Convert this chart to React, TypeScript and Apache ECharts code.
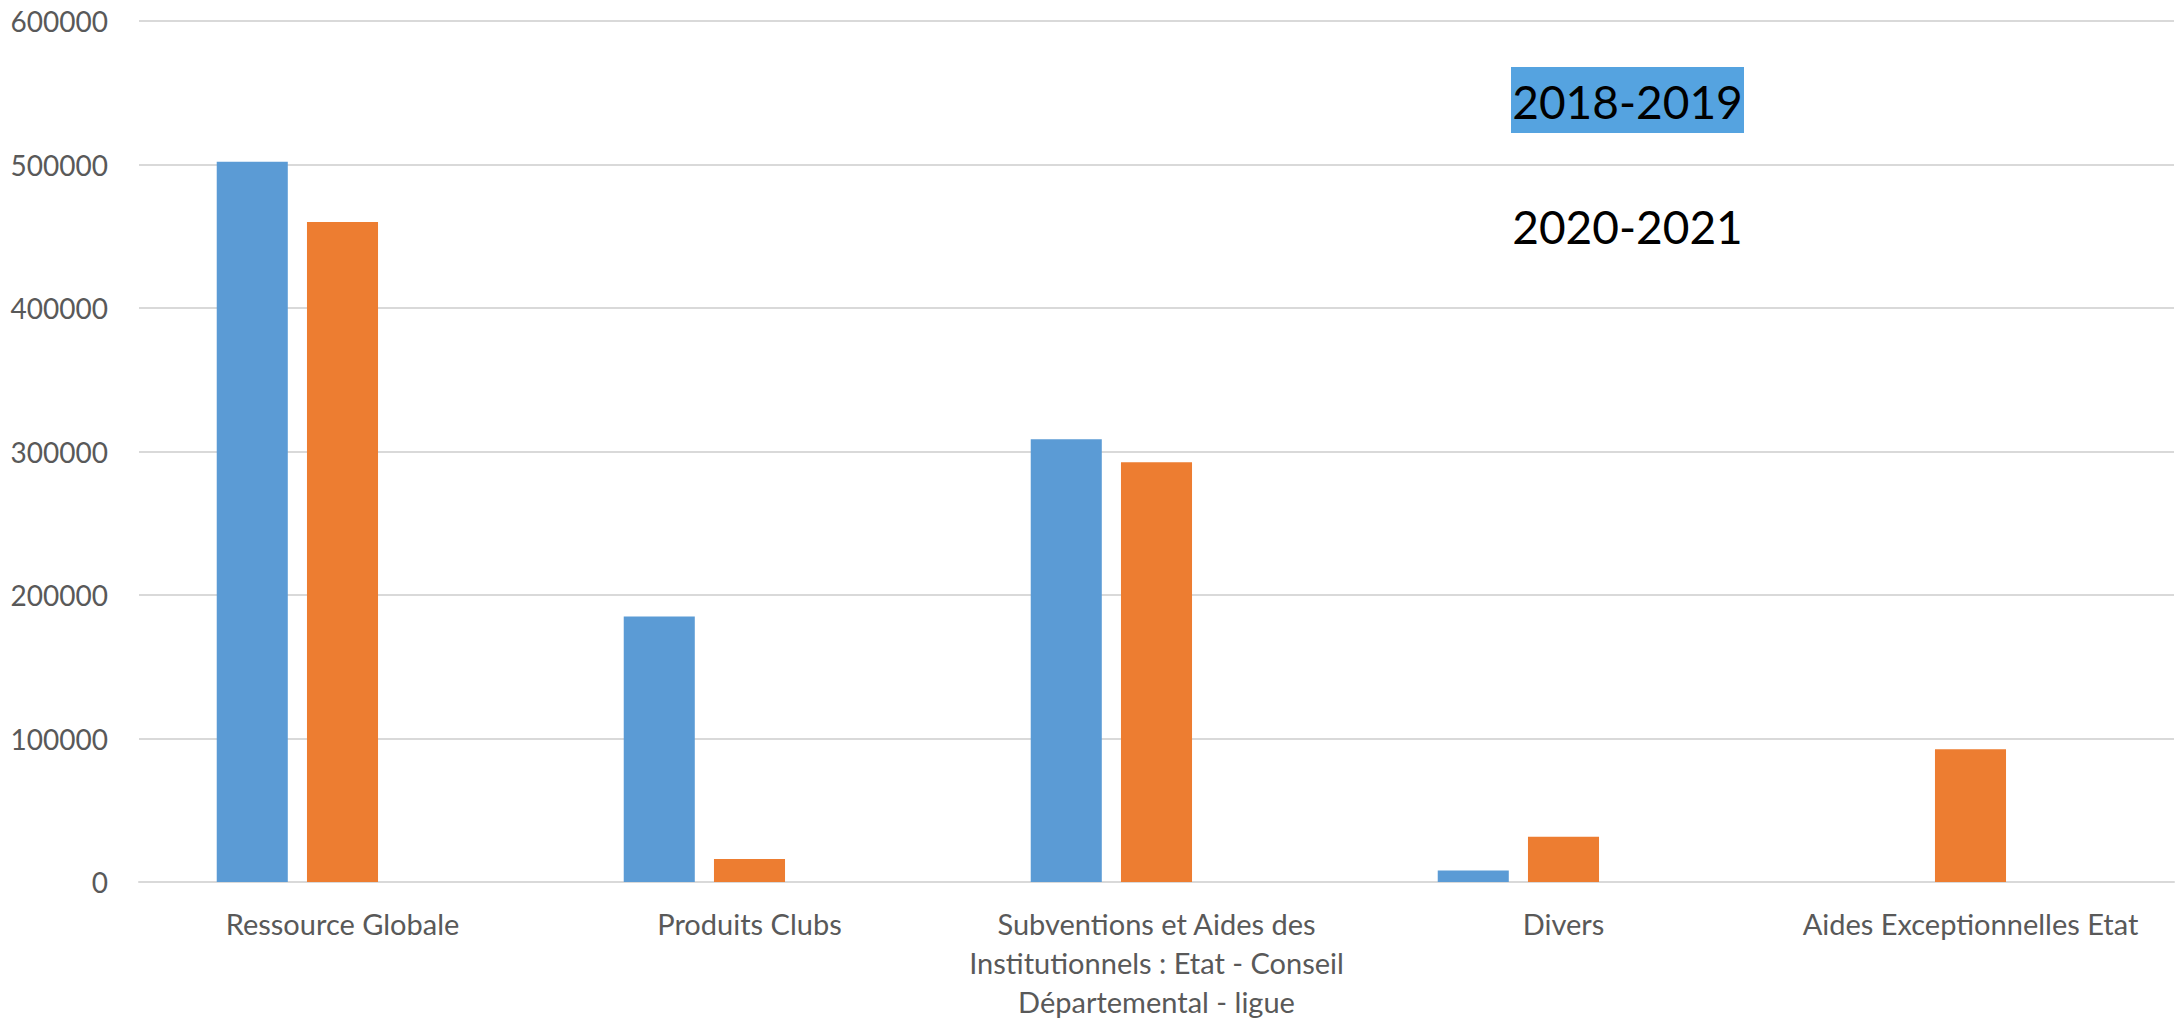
import React, { useEffect, useRef } from "react";
import * as echarts from "echarts";

const categories = [
  "Ressource Globale",
  "Produits Clubs",
  "Subventions et Aides des\nInstitutionnels : Etat - Conseil\nDépartemental - ligue",
  "Divers",
  "Aides Exceptionnelles Etat",
];
const seriesNames = ["2018-2019", "2020-2021", "Série3"];
const values2018 = [502000, 185000, 308500, 8000, null];
const values2020 = [460000, 16000, 292500, 31500, 92500];
const values3 = [null, null, null, null, null];
const yTicks = { min: 0, max: 600000, interval: 100000 };

const BLUE = "#5B9BD5";
const ORANGE = "#ED7D31";
const FONT = "Lato";

export default function App() {
  const ref = useRef<HTMLDivElement>(null);
  useEffect(() => {
    if (!ref.current) return;
    const chart = echarts.init(ref.current, undefined, { renderer: "svg" });
    chart.setOption({
      animation: false,
      backgroundColor: "#ffffff",
      grid: { left: 139, right: 2, top: 21, bottom: 135, containLabel: false },
      xAxis: {
        type: "category",
        data: categories,
        axisLine: { show: true, lineStyle: { color: "#D9D9D9", width: 2 } },
        axisTick: { show: false },
        axisLabel: {
          color: "#595959",
          fontFamily: FONT,
          fontSize: 29,
          lineHeight: 39,
          margin: 22,
          interval: 0,
        },
      },
      yAxis: {
        type: "value",
        min: yTicks.min,
        max: yTicks.max,
        interval: yTicks.interval,
        axisLine: { show: false },
        axisTick: { show: false },
        splitLine: { lineStyle: { color: "#D9D9D9", width: 2 } },
        axisLabel: {
          color: "#595959",
          fontFamily: FONT,
          fontSize: 28,
          margin: 31,
          formatter: (v: number) => String(v),
        },
      },
      series: [
        {
          name: seriesNames[0],
          type: "bar",
          data: values2018,
          itemStyle: { color: BLUE },
          barGap: "27%",
          barCategoryGap: "38.2%",
        },
        {
          name: seriesNames[1],
          type: "bar",
          data: values2020,
          itemStyle: { color: ORANGE },
          barGap: "27%",
          barCategoryGap: "38.2%",
        },
        {
          name: seriesNames[2],
          type: "bar",
          data: values3,
          itemStyle: { color: "#A5A5A5" },
          barGap: "27%",
          barCategoryGap: "38.2%",
        },
      ],
      graphic: [
        {
          type: "rect",
          shape: { x: 1511, y: 67, width: 233, height: 66 },
          style: { fill: "#55A3E0" },
        },
        {
          type: "text",
          x: 1627.5,
          y: 101,
          style: {
            text: seriesNames[0],
            fill: "#000000",
            font: `46px ${FONT}`,
            align: "center",
            verticalAlign: "middle",
          },
        },
        {
          type: "text",
          x: 1627.5,
          y: 226,
          style: {
            text: seriesNames[1],
            fill: "#000000",
            font: `46px ${FONT}`,
            align: "center",
            verticalAlign: "middle",
          },
        },
      ],
    });
    return () => chart.dispose();
  }, []);
  return (
    <div
      ref={ref}
      style={{ position: "fixed", left: 0, top: 0, width: 2176, height: 1021 }}
    />
  );
}
